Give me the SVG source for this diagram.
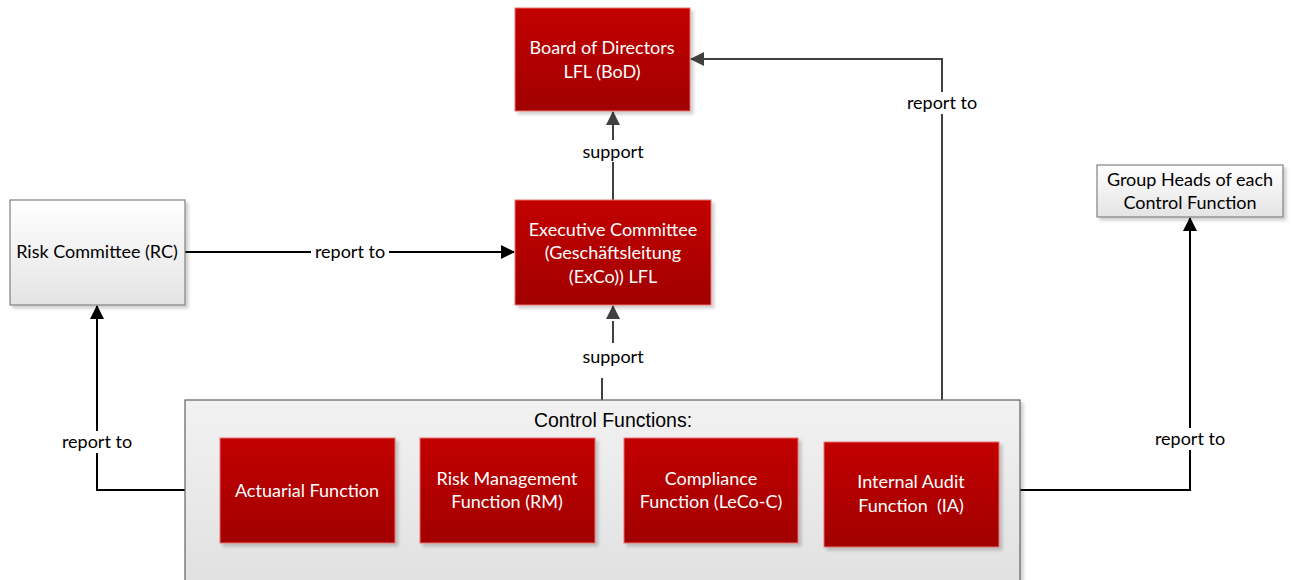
<svg xmlns="http://www.w3.org/2000/svg" width="1295" height="580" viewBox="0 0 1295 580">
<defs>
<linearGradient id="red" x1="0" y1="0" x2="0" y2="1"><stop offset="0" stop-color="#c20000"/><stop offset="1" stop-color="#a10000"/></linearGradient>
<linearGradient id="gray" x1="0" y1="0" x2="0" y2="1"><stop offset="0" stop-color="#ffffff"/><stop offset="1" stop-color="#e4e4e4"/></linearGradient>
<linearGradient id="cont" x1="0" y1="0" x2="0" y2="1"><stop offset="0" stop-color="#f2f2f2"/><stop offset="1" stop-color="#e0e0e0"/></linearGradient>
<filter id="sh" x="-10%" y="-10%" width="120%" height="130%"><feDropShadow dx="3" dy="3" stdDeviation="1.5" flood-color="#000" flood-opacity="0.18"/></filter>
<marker id="ag" markerWidth="14" markerHeight="14" refX="13" refY="7" orient="auto" markerUnits="userSpaceOnUse"><path d="M0,0 L14,7 L0,14 Z" fill="#404040"/></marker>
<marker id="ab" markerWidth="14" markerHeight="14" refX="13" refY="7" orient="auto" markerUnits="userSpaceOnUse"><path d="M0,0 L14,7 L0,14 Z" fill="#000"/></marker>
<style>
.red{fill:url(#red);stroke:#e87070;stroke-width:1;filter:url(#sh)}
.gbox{fill:url(#gray);stroke:#808080;stroke-width:1.2;filter:url(#sh)}
.wt{font-family:Lato,"Open Sans",sans-serif;font-size:18px;fill:#fff;text-anchor:middle}
.bt{font-family:Lato,"Open Sans",sans-serif;font-size:18px;fill:#000;text-anchor:middle}
.lbl{font-family:Lato,"Open Sans",sans-serif;font-size:18px;fill:#000;text-anchor:middle}
.ct{font-family:"Liberation Sans",Arial,sans-serif;font-size:19.5px;fill:#000;text-anchor:middle}
.cg{fill:none;stroke:#404040;stroke-width:2}
.cb{fill:none;stroke:#000;stroke-width:2}
.bg{fill:#fff}
</style>
</defs>
<rect width="1295" height="580" fill="#fff"/>
<g id="connectors">
<path class="cg" d="M613,200 V112" marker-end="url(#ag)"/>
<path class="cg" d="M602,400 V362 H613 V306" stroke-dasharray="22,12" marker-end="url(#ag)"/>
<path class="cb" d="M185,252 H514" marker-end="url(#ab)"/>
<path class="cg" d="M942,400 V59 H691" marker-end="url(#ag)"/>
<path class="cb" d="M185,490 H97 V306" marker-end="url(#ab)"/>
<path class="cb" d="M1020,490 H1190 V218" marker-end="url(#ab)"/>
<rect class="bg" x="578" y="140" width="70" height="22"/>
<text class="lbl" x="613" y="158">support</text>
<rect class="bg" x="578" y="345" width="70" height="24"/>
<text class="lbl" x="613" y="363">support</text>
<rect class="bg" x="311" y="241" width="78" height="22"/>
<text class="lbl" x="350" y="258">report to</text>
<rect class="bg" x="903" y="92" width="78" height="22"/>
<text class="lbl" x="942" y="109">report to</text>
<rect class="bg" x="58" y="431" width="78" height="22"/>
<text class="lbl" x="97" y="448">report to</text>
<rect class="bg" x="1151" y="428" width="78" height="22"/>
<text class="lbl" x="1190" y="445">report to</text>
</g>
<g id="bod"><rect class="red" x="515" y="8" width="175" height="103"/><text class="wt" x="602" y="54">Board of Directors</text><text class="wt" x="602" y="78">LFL (BoD)</text></g>
<g id="exco"><rect class="red" x="515" y="200" width="196" height="105"/><text class="wt" x="613" y="236">Executive Committee</text><text class="wt" x="613" y="259">(Geschäftsleitung</text><text class="wt" x="613" y="283">(ExCo)) LFL</text></g>
<g id="rc"><rect class="gbox" x="10" y="200" width="175" height="105"/><text class="bt" x="97" y="258">Risk Committee (RC)</text></g>
<g id="gh"><rect class="gbox" x="1097" y="165" width="186" height="52"/><text class="bt" x="1190" y="186">Group Heads of each</text><text class="bt" x="1190" y="209">Control Function</text></g>
<g id="control"><rect x="185" y="400" width="835" height="190" fill="url(#cont)" stroke="#606060" stroke-width="1.2" filter="url(#sh)"/><text class="ct" x="613" y="427">Control Functions:</text></g>
<g id="actuarial"><rect class="red" x="220" y="438" width="175" height="105"/><text class="wt" x="307" y="497">Actuarial Function</text></g>
<g id="rm"><rect class="red" x="420" y="438" width="175" height="105"/><text class="wt" x="507" y="485">Risk Management</text><text class="wt" x="507" y="508">Function (RM)</text></g>
<g id="compliance"><rect class="red" x="624" y="438" width="174" height="105"/><text class="wt" x="711" y="485">Compliance</text><text class="wt" x="711" y="508">Function (LeCo-C)</text></g>
<g id="ia"><rect class="red" x="824" y="442" width="175" height="105"/><text class="wt" x="911" y="488">Internal Audit</text><text class="wt" x="911" y="512" xml:space="preserve">Function  (IA)</text></g>
</svg>
